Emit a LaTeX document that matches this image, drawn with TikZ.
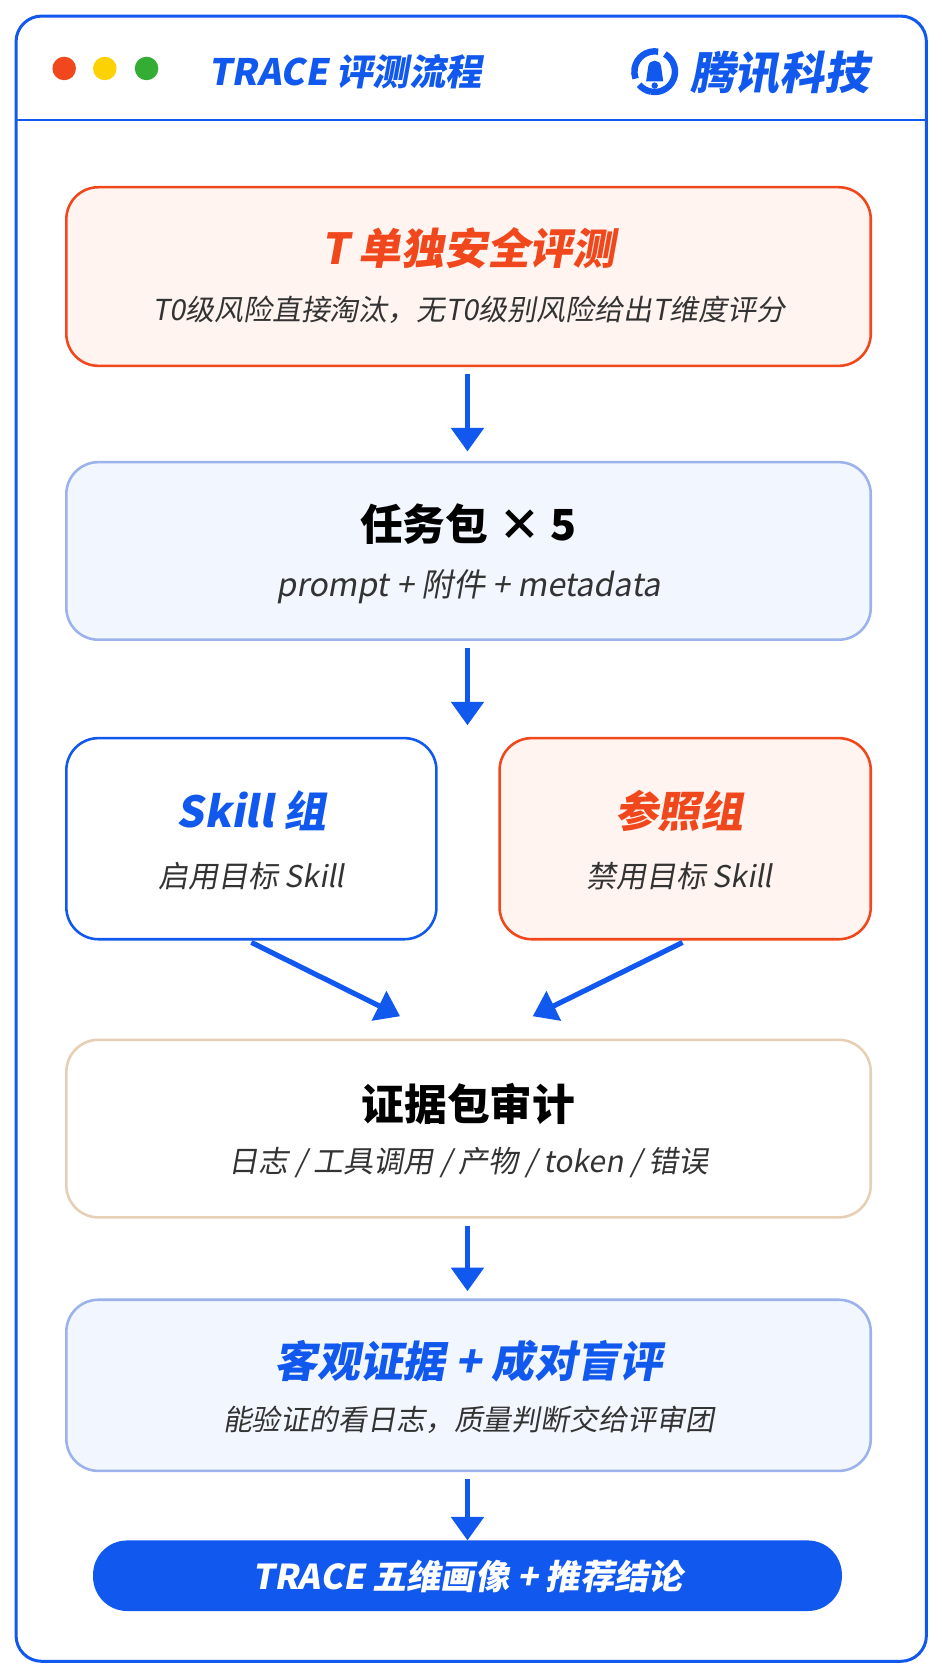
\documentclass[tikz,border=0pt]{standalone}
\usetikzlibrary{arrows.meta}
\usepackage{fontspec}
\setmainfont{Noto Sans CJK SC}
\newfontfamily\cj{Noto Sans CJK SC}[FakeSlant=0.18,BoldFeatures={FakeSlant=0.18}]
\newcommand\cjb{\cj\bfseries}
\newcommand\cjn{\normalfont\bfseries}
\definecolor{bl}{HTML}{1159EE}
\definecolor{og}{HTML}{F0481C}
\definecolor{ogf}{HTML}{FFF4F0}
\definecolor{lbf}{HTML}{F2F6FE}
\definecolor{lbb}{HTML}{9BB3EA}
\definecolor{tan}{HTML}{E6CFB4}
\definecolor{tx}{HTML}{333333}
\begin{document}
\begin{tikzpicture}[x=0.5pt,y=-0.5pt,
 box/.style={rounded corners=15pt,line width=1.2pt},
 arr/.style={bl,line width=2.4pt,-{Triangle[length=11pt,width=15pt]}},
 ttl/.style={font=\cjb\fontsize{20}{23}\selectfont},
 sub/.style={font=\cj\fontsize{13.5}{16}\selectfont,text=tx}]
\useasboundingbox (0,0) rectangle (880,1563);
\fill[white] (0,0) rectangle (880,1563);
% frame
\draw[bl,line width=1.4pt,rounded corners=12pt] (15,15) rectangle (866,1553);
\draw[bl,line width=1.2pt] (15,112) -- (866,112);
\fill[og] (60,64) circle (11);
\fill[yellow!70!orange] (98,64) circle (11);
\fill[green!60!black!80] (137,64) circle (11);
\node[anchor=west,text=bl,font=\cjb\fontsize{17}{20}\selectfont] (hd) at (188,67) {TRACE 评测流程};
% logo
\node[anchor=west,text=bl,font=\cjb\fontsize{21}{24}\selectfont] (lg) at (638,68) {腾讯科技};
\draw[bl,line width=3pt] (612,67) ++(100:19) arc (100:-60:19);
\draw[bl,line width=3pt] (612,67) ++(-80:19) arc (-80:-200:19);
\draw[bl,line width=3pt] (612,67) ++(-220:19) arc (-220:-260:19);
\fill[bl] (604,76) -- (606,62) .. controls (607,55) and (617,55) .. (618,62) -- (620,76) -- cycle;
\fill[bl] (612,80) circle (3);
% box 1
\draw[box,og,fill=ogf] (62,175) rectangle (814,342);
\node[ttl,text=og] (t1) at (438,232) {T 单独安全评测};
\node[sub] (s1) at (438,290) {T0级风险直接淘汰，无T0级别风险给出T维度评分};
\coordinate (a1s) at (437,350); \coordinate (a1e) at (437,422);
\draw[arr] (a1s) -- (a1e);
% box 2
\draw[box,lbb,fill=lbf] (62,432) rectangle (814,598);
\node[font=\cjn\fontsize{20}{23}\selectfont] (t2) at (438,490) {任务包 × 5};
\node[sub,font=\cj\fontsize{15}{17}\selectfont] (s2) at (438,548) {prompt + 附件 + metadata};
\coordinate (a2s) at (437,606); \coordinate (a2e) at (437,678);
\draw[arr] (a2s) -- (a2e);
% box 3
\draw[box,bl,fill=white] (62,690) rectangle (408,878);
\node[ttl,text=bl] (t3) at (235,758) {Skill 组};
\node[sub,font=\cj\fontsize{14}{16}\selectfont] (s3) at (235,819) {启用目标 Skill};
\draw[box,og,fill=ogf] (467,690) rectangle (814,878);
\node[ttl,text=og] (t4) at (635,758) {参照组};
\node[sub,font=\cj\fontsize{14}{16}\selectfont] (s4) at (635,819) {禁用目标 Skill};
\coordinate (d1s) at (235,881); \coordinate (d1e) at (374,950);
\coordinate (d2s) at (638,881); \coordinate (d2e) at (498,950);
\draw[arr] (d1s) -- (d1e);
\draw[arr] (d2s) -- (d2e);
% box 4
\draw[box,tan,fill=white] (62,972) rectangle (814,1138);
\node[font=\cjn\fontsize{20}{23}\selectfont] (t5) at (438,1032) {证据包审计};
\node[sub,font=\cj\fontsize{14}{16}\selectfont] (s5) at (438,1087) {日志 / 工具调用 / 产物 / token / 错误};
\coordinate (a3s) at (437,1146); \coordinate (a3e) at (437,1207);
\draw[arr] (a3s) -- (a3e);
% box 5
\draw[box,lbb,fill=lbf] (62,1215) rectangle (814,1375);
\node[ttl,text=bl] (t6) at (438,1272) {客观证据 + 成对盲评};
\node[sub] (s6) at (438,1327) {能验证的看日志，质量判断交给评审团};
\coordinate (a4s) at (437,1383); \coordinate (a4e) at (437,1440);
\draw[arr] (a4s) -- (a4e);
% final
\fill[bl,rounded corners=16pt] (87,1440) rectangle (787,1506);
\node[text=white,font=\cjb\fontsize{16}{19}\selectfont] (fin) at (437,1474) {TRACE 五维画像 + 推荐结论};
\end{tikzpicture}
\end{document}
